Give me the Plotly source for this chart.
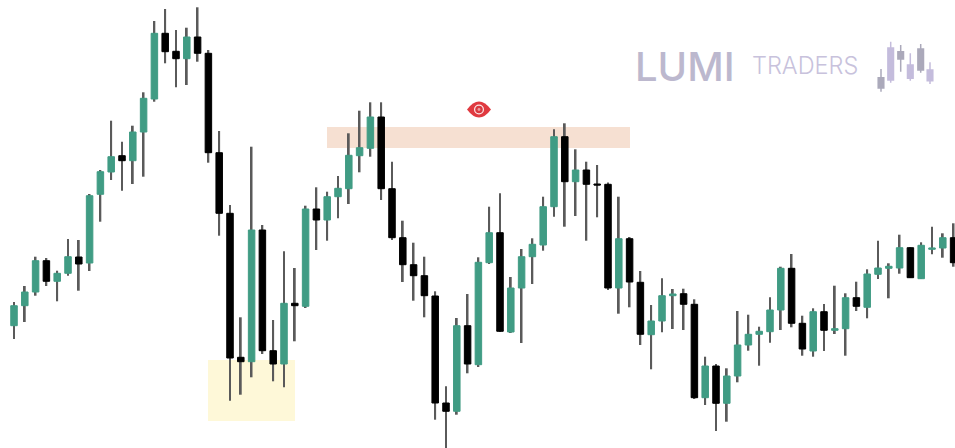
import plotly.graph_objects as go

opens = [122.3,142.3,156,187.3,166.7,174.7,191,185,253.7,276,292.3,287.3,316,349,414.7,396.7,389.3,411,394.7,295.3,234.7,90.7,86.3,218,97.3,84,144.7,141.7,239,228,251.3,259.3,292.3,299.7,331,259.3,210.3,183.3,172.3,152,45,36.7,122.3,83.3,185.3,215.3,116,160,191.3,203,241.3,311.3,266.3,278,264,263.7,160,209.3,165.7,113.3,127,152.3,154.3,143.7,50.3,82,44.7,72,103,113.7,116.3,138,179.7,124.7,97,136.3,117.7,119.3,150.3,140.7,173.7,179.7,180,200.3,169.3,198.7,200,210.3]
closes = [142.3,156,187.3,166.7,174.7,191.3,184,252.3,276.3,291.3,287.3,316,349.7,414.7,396.3,389.3,411,394.7,295.3,234.7,90,86.3,218,97.3,84,144.7,142.3,239,228,251.3,259.7,292.7,300.3,331,259.3,210.3,183.3,172.3,152.3,45,36.7,122.3,84,185.7,215.3,116.7,160,191.3,203.7,241.3,311.3,266.3,278,263.7,263,160,209.3,166,113.7,127,152.3,154,143.7,50.3,82,44.7,72,103,113.7,116.7,138,179.7,124.7,99,136.3,117.7,119.3,150.3,141.7,174,180,181.7,200.3,170.3,202.7,200,210.3,185.3]
highs = [146,162,191.3,190,177.3,209,208,254,278,327.3,306.3,322.3,355.7,427,439,418,420.3,440.7,398,317,243,130.7,301.3,223,128,196.7,180,242.3,260.7,256.3,272,314.7,337.3,345.7,345.7,286.3,227.3,205.3,191.3,156.7,61.7,130,154,190.7,241.3,254.7,171,199,209.7,251.3,318.7,324.7,298.7,286.3,283,265.5,251.3,211,177,143,169.7,159,159.3,148.7,91.3,84,79.7,137,133.3,121.3,150.7,181.3,194,132.3,139.7,144,162.3,154.7,166.3,178.7,207.3,184.7,213.3,200.8,205.7,221.3,214.7,224.7]
lows = [109,126,152.3,162,146.7,172.3,157.3,177,226.3,268,257.3,264,271.3,346.3,384.7,360.7,363,386.3,285.3,212.3,47.3,53.3,70.7,94,66.7,60.7,106.7,140,198,207.3,229.7,244,275.7,291.3,248,208,166,147.3,130.7,28.3,-1,33.3,74.7,81,184,116,115,105,164,197.3,231.3,221.3,232,207.3,230.7,158,134.3,140.7,103,78.7,115.7,119,118,49,43,17,26.3,65.7,97.3,82.3,105.3,118,120.7,92.3,91.3,97,114,92.3,137,129.7,169,149.7,174.3,170,169,193.7,190.3,181.3]
candle_index = list(range(len(opens)))

logo_x = [881,890.7,900.7,910.3,920.7,930]
logo_open = [370.3,368,396.3,369.7,399,367.3]
logo_close = [360,400,389,383,378,378]
logo_high = [379,406.3,403,394.7,404,385.7]
logo_low = [356.3,365.3,376.3,367.3,375.3,364]

GREEN = "#409C84"
BLACK = "#000000"
WICK = "#5A5A5A"
LILAC = "#C4BCDC"
GREY = "#ABA9BA"

fig = go.Figure()
fig.add_trace(go.Bar(
    x=candle_index, base=lows, y=[h - l for h, l in zip(highs, lows)],
    width=0.17, marker=dict(color=WICK, line=dict(width=0)),
    showlegend=False, hoverinfo="skip",
))
fig.add_trace(go.Candlestick(
    x=candle_index, open=opens, close=closes,
    high=[max(o, c) for o, c in zip(opens, closes)],
    low=[min(o, c) for o, c in zip(opens, closes)],
    whiskerwidth=0, showlegend=False, hoverinfo="skip",
    increasing=dict(line=dict(color=GREEN, width=1), fillcolor=GREEN),
    decreasing=dict(line=dict(color=BLACK, width=1), fillcolor=BLACK),
))
fig.add_trace(go.Candlestick(
    x=logo_x, open=logo_open, high=logo_high, low=logo_low, close=logo_close,
    xaxis="x2", whiskerwidth=0, showlegend=False, hoverinfo="skip",
    increasing=dict(line=dict(color=LILAC, width=1.5), fillcolor=LILAC),
    decreasing=dict(line=dict(color=GREY, width=1.5), fillcolor=GREY),
))

fig.update_layout(
    width=955, height=448,
    margin=dict(l=0, r=0, t=0, b=0),
    paper_bgcolor="white", plot_bgcolor="white",
    boxmode="overlay", boxgap=0.14, barmode="overlay",
    xaxis=dict(range=[-1.296, 87.13], visible=False, fixedrange=True,
               rangeslider=dict(visible=False)),
    xaxis2=dict(range=[0, 955], visible=False, overlaying="x", fixedrange=True,
                rangeslider=dict(visible=False)),
    yaxis=dict(range=[0, 448], visible=False, fixedrange=True),
    shapes=[
        dict(type="rect", xref="x2", yref="y", x0=208, x1=295, y0=27, y1=88,
             fillcolor="#FEF8D8", line_width=0, layer="below"),
        dict(type="rect", xref="x2", yref="y", x0=327, x1=630, y0=300, y1=321,
             fillcolor="#F6E0D2", line_width=0, layer="below"),
        dict(type="path", xref="x2", yref="y",
             path="M 467 338.5 Q 479 354.5 491 338.5 Q 479 322.5 467 338.5 Z",
             fillcolor="#E03A40", line_width=0),
        dict(type="circle", xref="x2", yref="y", x0=474, x1=484, y0=333.5, y1=343.5,
             fillcolor="#FBE9E9", line_width=0),
        dict(type="circle", xref="x2", yref="y", x0=475.2, x1=482.8, y0=334.7, y1=342.3,
             fillcolor="#D93A40", line_width=0),
        dict(type="circle", xref="x2", yref="y", x0=477.6, x1=480.4, y0=337.1, y1=339.9,
             fillcolor="#EE9A9C", line_width=0),
    ],
    annotations=[
        dict(text="LUMI", xref="paper", yref="paper", x=634/955, y=1-66.5/448,
             xanchor="left", yanchor="middle", showarrow=False, borderpad=0,
             font=dict(family="Inter", size=40, weight=500, color="#BCB8CE")),
        dict(text="TRADERS", xref="paper", yref="paper", x=751/955, y=1-65.5/448,
             xanchor="left", yanchor="middle", showarrow=False, borderpad=0,
             font=dict(family="Inter", size=23.5, weight=300, color="#C8C2DC")),
    ],
)
fig.write_html("out.html", config={"displayModeBar": False},
               post_script="document.body.style.margin='0';")
